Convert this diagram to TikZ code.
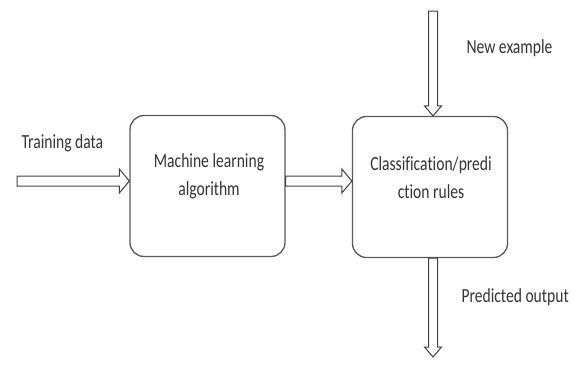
\documentclass[tikz,border=0pt]{standalone}
\usepackage{fontspec}
\setmainfont[Ligatures=NoCommon, FakeStretch=0.78]{Carlito}
\usetikzlibrary{calc}

\begin{document}
\begin{tikzpicture}[x=1pt,y=-1pt,
    box/.style={draw=black!65, line width=1.3pt, rounded corners=14pt,
        minimum width=155pt, minimum height=141pt},
    boxtxt/.style={align=center, text=black!80, font=\fontsize{20}{28}\selectfont},
    lbl/.style={anchor=west, text=black!80, font=\fontsize{20}{24}\selectfont},
    harrow/.style={draw=black!75, line width=1pt, to path={
        let \p1=(\tikztostart), \p2=(\tikztotarget) in
        (\x1,\y1-5pt) -- (\x2-10pt,\y1-5pt) -- (\x2-10pt,\y1-12pt) -- (\x2,\y1)
        -- (\x2-10pt,\y1+12pt) -- (\x2-10pt,\y1+5pt) -- (\x1,\y1+5pt) -- cycle}},
    varrow/.style={draw=black!75, line width=1pt, to path={
        let \p1=(\tikztostart), \p2=(\tikztotarget) in
        (\x1-4.5pt,\y1) -- (\x1-4.5pt,\y2+10pt) -- (\x1-8.5pt,\y2+10pt) -- (\x1,\y2)
        -- (\x1+8.5pt,\y2+10pt) -- (\x1+4.5pt,\y2+10pt) -- (\x1+4.5pt,\y1) -- cycle}}]
    \useasboundingbox (0,0) rectangle (575,365);

    % the two blocks
    \node[box] (mla) at (207.5,186) {};
    \node[boxtxt] (mlatxt) at (209,176) {Machine learning\\algorithm};
    \node[box] (rules) at (430,187) {};
    \node[boxtxt] (rulestxt) at (431,177.5) {Classification/predi\\ction rules};

    % free ends of the outer arrows
    \coordinate (train) at (17,181);
    \coordinate (newin) at (433,11);
    \coordinate (predout) at (433,357);

    \draw[harrow] (train) to (train -| mla.west);
    \draw[harrow] (mla.east |- train) to (rules.west |- train);
    \draw[varrow] (newin) to (newin |- rules.north);
    \draw[varrow] (predout |- rules.south) to (predout);

    \node[lbl] (traintxt) at (18,143) {Training data};
    \node[lbl] (newtxt) at (463,48) {New example};
    \node[lbl] (predtxt) at (458,297) {Predicted output};
\end{tikzpicture}
\end{document}
